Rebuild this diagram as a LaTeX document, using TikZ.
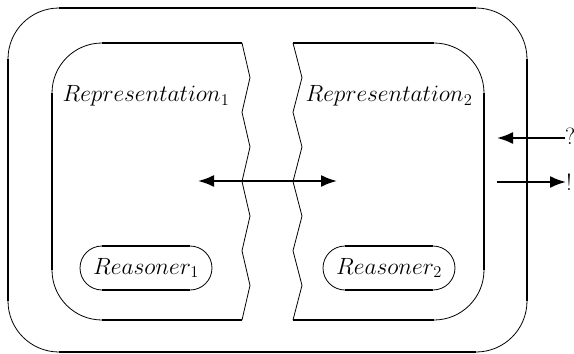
\RequirePackage{fix-cm}
\documentclass[tikz,border=0pt]{standalone}
\usetikzlibrary{arrows.meta}
\begin{document}
\begin{tikzpicture}[x=1pt,y=-1pt,
  thickline/.style={line width=2pt},
  thinline/.style={line width=0.8pt},
  lbl/.style={font=\fontsize{23.5}{28}\selectfont, inner sep=0pt},
  reasoner/.style={draw, thinline, rounded corners=22pt, minimum width=132pt, minimum height=44pt, inner sep=0pt, font=\fontsize{23.5}{28}\selectfont},
  arr/.style={thickline, -{Latex[length=16pt,width=12pt]}},
  biarr/.style={thickline, {Latex[length=16pt,width=12pt]}-{Latex[length=16pt,width=12pt]}}
]
\useasboundingbox (0,0) rectangle (574,354);
% outer box
\draw[thickline] (59,8) -- (476,8);
\draw[thickline] (527,59) -- (527,301);
\draw[thickline] (476,352) -- (59,352);
\draw[thickline] (8,301) -- (8,59);
\draw[thinline] (8,59) .. controls (8,30.8) and (30.8,8) .. (59,8);
\draw[thinline] (476,8) .. controls (504.2,8) and (527,30.8) .. (527,59);
\draw[thinline] (527,301) .. controls (527,329.2) and (504.2,352) .. (476,352);
\draw[thinline] (59,352) .. controls (30.8,352) and (8,329.2) .. (8,301);
% inner left
\draw[thickline] (102,43) -- (242,43);
\draw[thickline] (242,320) -- (102,320);
\draw[thickline] (52,270) -- (52,93);
\draw[thinline] (52,93) .. controls (52,65.4) and (74.4,43) .. (102,43);
\draw[thinline] (102,320) .. controls (74.4,320) and (52,297.6) .. (52,270);
\draw[thinline] (242,43) -- (250,77.6) -- (242,112.25) -- (250,146.9) -- (242,181.5)
  -- (250,216.1) -- (242,250.75) -- (250,285.4) -- (242,320);
% inner right
\draw[thickline] (293,43) -- (434,43);
\draw[thickline] (484,93) -- (484,270);
\draw[thickline] (434,320) -- (293,320);
\draw[thinline] (434,43) .. controls (461.6,43) and (484,65.4) .. (484,93);
\draw[thinline] (484,270) .. controls (484,297.6) and (461.6,320) .. (434,320);
\draw[thinline] (293,43) -- (302,77.6) -- (293,112.25) -- (302,146.9) -- (293,181.5)
  -- (302,216.1) -- (293,250.75) -- (302,285.4) -- (293,320);
% labels
\node[lbl] (rep1) at (146,96) {$Representation_1$};
\node[lbl] (rep2) at (389,96) {$Representation_2$};
\node[reasoner] (r1) at (146,268) {$Reasoner_1$};
\node[reasoner] (r2) at (389,268) {$Reasoner_2$};
\foreach \n in {r1,r2}{
  \draw[thickline] ([xshift=22pt]\n.north west) -- ([xshift=-22pt]\n.north east);
  \draw[thickline] ([xshift=22pt]\n.south west) -- ([xshift=-22pt]\n.south east);
}
% middle arrow
\coordinate (mL) at (198,181);
\coordinate (mR) at (337,181);
\draw[biarr] (mL) -- (mR);
% right arrows
\node[lbl, anchor=west] (q) at (565,136) {?};
\node[lbl, anchor=west] (ex) at (566,182) {!};
\coordinate (qend) at (497,138);
\coordinate (exstart) at (497,182);
\draw[arr] (q.west |- qend) -- (qend);
\draw[arr] (exstart) -- (ex.west |- exstart);
\end{tikzpicture}
\end{document}
